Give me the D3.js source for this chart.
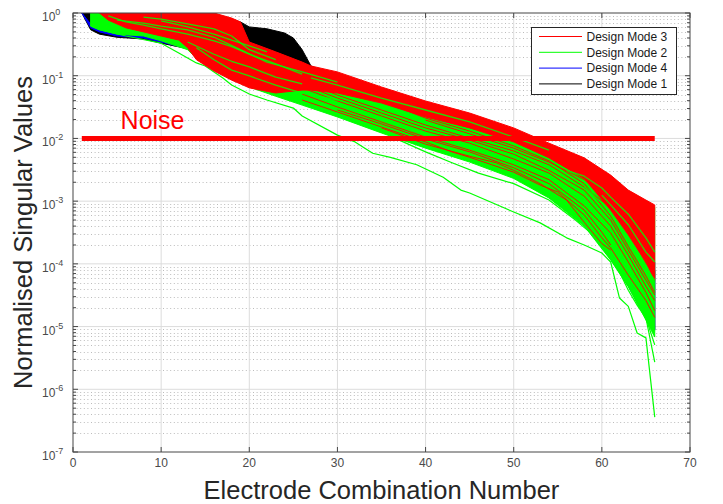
<!DOCTYPE html>
<html>
<head>
<meta charset="utf-8">
<script src="https://cdn.jsdelivr.net/npm/d3@7"></script>
<style>
  body { margin: 0; background: #fff; }
  svg { display: block; }
  text { font-family: "Liberation Sans", Arial, Helvetica, sans-serif; }
</style>
</head>
<body>
<svg id="chart" width="723" height="504"></svg>
<script>
// ---------------- data ----------------
// Envelopes (upper / lower) of each design mode's bundle of singular-value curves
const mode1X  = [1, 2, 3, 5, 8, 10, 13, 16, 19, 20, 22, 24, 25, 26, 27, 30, 35, 40, 45, 50, 54, 58, 61, 63, 65, 66];
const mode1Hi = [1, 1, 1, 1, 1, 1, 1, 0.93, 0.72, 0.60, 0.56, 0.48, 0.40, 0.26, 0.143, 0.092, 0.047, 0.0264, 0.0158, 0.0088, 0.0045, 0.0020, 0.00072, 0.00029, 0.000115, 8.0e-5];
const mode1Lo = [1, 0.54, 0.46, 0.41, 0.385, 0.33, 0.27, 0.128, 0.0765, 0.069, 0.055, 0.044, 0.0395, 0.0367, 0.034, 0.0236, 0.0131, 0.0076, 0.0045, 0.0025, 0.0012, 0.00043, 0.000133, 5.1e-5, 1.5e-5, 8.8e-6];

const mode4X  = [1, 2, 3, 5, 8, 10, 13, 16, 20, 26, 30, 35, 40, 45, 50, 54, 58, 61, 63, 65, 66];
const mode4Hi = [1, 0.67, 0.62, 0.58, 0.54, 0.50, 0.43, 0.26, 0.123, 0.071, 0.049, 0.0284, 0.017, 0.0105, 0.0063, 0.0034, 0.0015, 0.0006, 0.00029, 0.000138, 0.000107];
const mode4Lo = [1, 0.58, 0.50, 0.43, 0.40, 0.345, 0.27, 0.128, 0.069, 0.0354, 0.0228, 0.0127, 0.0073, 0.0044, 0.0024, 0.00116, 0.00042, 0.000119, 4.4e-5, 1.37e-5, 8.8e-6];

const mode2X  = [2, 3, 5, 8, 10, 13, 14, 16, 18, 20, 23, 26, 30, 35, 40, 45, 50, 54, 58, 61, 63, 65, 66];
const mode2Hi = [1, 1, 1, 1, 1, 1, 1, 1, 0.77, 0.32, 0.21, 0.148, 0.099, 0.057, 0.033, 0.0211, 0.0122, 0.0068, 0.0039, 0.0023, 0.00145, 0.001, 0.0008];
const mode2Lo = [0.62, 0.54, 0.46, 0.43, 0.36, 0.26, 0.19, 0.123, 0.089, 0.066, 0.047, 0.034, 0.022, 0.0122, 0.0070, 0.0042, 0.0023, 0.00112, 0.0004, 0.000115, 4.3e-5, 1.27e-5, 6.8e-6];

const mode3X  = [3, 4, 6, 8, 10, 12, 13, 14, 16, 18, 19, 20, 23, 26, 27, 30, 35, 40, 45, 50, 54, 58, 61, 63, 65, 66];
const mode3Hi = [1, 1, 1, 1, 1, 1, 1, 1, 1, 0.83, 0.72, 0.345, 0.24, 0.165, 0.143, 0.115, 0.066, 0.0395, 0.0254, 0.0147, 0.0084, 0.0049, 0.0026, 0.0015, 0.00104, 0.00087];
const mode3Lo = [1, 0.77, 0.58, 0.50, 0.43, 0.37, 0.28, 0.18, 0.119, 0.085, 0.074, 0.064, 0.053, 0.059, 0.059, 0.053, 0.0367, 0.022, 0.0147, 0.0088, 0.0049, 0.0023, 0.00072, 0.00029, 0.000107, 5.5e-5];

// Individual Design Mode 3 curves running through the Mode 2 bundle
const mode3Curves = [
  { x: [26, 30, 35, 40, 43, 45, 50, 53, 55, 58, 60, 61, 63, 65, 66],
    v: [0.041, 0.0264, 0.0152, 0.0088, 0.0061, 0.005, 0.0029, 0.0018, 0.0014, 0.0006, 0.00026, 0.00018, 6.6e-5, 2.6e-5, 1.4e-5] },
  { x: [20, 26, 30, 35, 40, 45, 50, 54, 58, 61, 63, 65, 66],
    v: [0.18, 0.064, 0.0395, 0.0228, 0.0131, 0.0084, 0.0047, 0.0028, 0.0012, 0.0004, 0.000138, 4.4e-5, 2.6e-5] },
  { x: [26, 30, 35, 40, 45, 50, 54, 58, 61, 63, 65, 66],
    v: [0.085, 0.049, 0.0284, 0.0164, 0.0101, 0.0063, 0.0038, 0.00168, 0.00078, 0.00032, 0.000103, 6.4e-5] },
  { x: [26, 30, 35, 40, 45, 50, 54, 58, 61, 63, 65, 66],
    v: [0.051, 0.0317, 0.0183, 0.0105, 0.0065, 0.0038, 0.0022, 0.00084, 0.00031, 0.000107, 3.5e-5, 1.8e-5] },
  { x: [30, 35, 40, 45, 50, 54, 58, 61, 63, 65, 66],
    v: [0.069, 0.0395, 0.0211, 0.0131, 0.0076, 0.0044, 0.0019, 0.00058, 0.00019, 6.4e-5, 3.5e-5] },
  { x: [35, 40, 45, 48, 50, 53, 56, 58, 60, 61],
    v: [0.0147, 0.0081, 0.0052, 0.0041, 0.0031, 0.0019, 0.00104, 0.00046, 0.00021, 0.000166] },
  { x: [27, 30, 35, 40, 45, 50, 54, 58, 61, 63, 65, 66],
    v: [0.064, 0.044, 0.0254, 0.0147, 0.0094, 0.0056, 0.0031, 0.0015, 0.0005, 0.000166, 5.5e-5, 3.2e-5] },
  { x: [30, 35, 40, 45, 50, 54, 58, 60, 61],
    v: [0.0284, 0.017, 0.0098, 0.0061, 0.0034, 0.0019, 0.00072, 0.00032, 0.0002] },
  { x: [40, 45, 50, 54, 58, 61, 63, 65, 66],
    v: [0.0196, 0.0118, 0.007, 0.0042, 0.0022, 0.00104, 0.00037, 0.000138, 8.6e-5] }
];

// Individual Design Mode 2 curves: ones threading the Mode 3 bundle and the low outliers
const mode2Curves = [
  { x: [4, 6, 8, 10, 13, 16, 18, 20, 23, 26],
    v: [0.90, 0.72, 0.64, 0.56, 0.46, 0.36, 0.29, 0.22, 0.154, 0.106] },
  { x: [10, 13, 16, 18, 20, 22],
    v: [0.75, 0.60, 0.46, 0.37, 0.30, 0.24] },
  { x: [13, 16, 18, 20, 23, 26],
    v: [0.345, 0.22, 0.17, 0.138, 0.095, 0.074] },
  { x: [56, 58, 60, 61, 63, 65, 66],
    v: [0.0031, 0.0025, 0.00162, 0.00116, 0.00062, 0.00026, 0.000154] },
  { x: [58, 60, 61, 63, 65, 66],
    v: [0.00174, 0.00093, 0.00062, 0.00024, 8.6e-5, 5.5e-5] },
  { x: [5, 8, 10, 13, 16, 19, 22, 26, 30],
    v: [0.77, 0.69, 0.62, 0.54, 0.41, 0.26, 0.165, 0.115, 0.079] },
  { x: [8, 10, 13, 16, 18, 20, 23],
    v: [0.86, 0.80, 0.67, 0.56, 0.43, 0.26, 0.18] },
  { x: [14, 16, 18, 20, 23, 26, 30],
    v: [0.28, 0.18, 0.123, 0.099, 0.071, 0.053, 0.041] },
  { x: [60, 61, 63, 65, 66],
    v: [0.00125, 0.00087, 0.00042, 0.000154, 0.000107] },
  { x: [27, 30, 35, 40, 45, 50, 54],
    v: [0.092, 0.071, 0.044, 0.0284, 0.0183, 0.0105, 0.0065] }
];
const mode2Outliers = [
  { x: [2, 3, 6, 10, 12, 14, 15, 17, 18, 20, 22, 25, 26, 30, 32, 34, 36, 39, 42, 44, 45, 50, 53, 56, 58, 60, 61, 62, 63, 64, 65, 66],
    v: [0.62, 0.54, 0.43, 0.33, 0.23, 0.16, 0.143, 0.092, 0.071, 0.051, 0.041, 0.0305, 0.0228, 0.0113, 0.0088, 0.0058, 0.005, 0.0038, 0.0024, 0.0015, 0.00135, 0.00067, 0.00045, 0.00026, 0.0002, 0.000149, 0.000107, 2.85e-5, 2.1e-5, 7.9e-6, 6.6e-6, 3.6e-7] },
  { x: [54, 57, 59, 61, 62, 63, 64, 65, 66],
    v: [0.00104, 0.0005, 0.00029, 0.000138, 7.4e-5, 3.8e-5, 2.2e-5, 1.37e-5, 2.7e-6] },
  { x: [56, 58, 60, 62, 63, 64, 65, 66],
    v: [0.00072, 0.00042, 0.00024, 0.000107, 5.5e-5, 2.6e-5, 1.37e-5, 5.1e-6] },
  { x: [36, 40, 43, 46, 50, 54],
    v: [0.0109, 0.0061, 0.0041, 0.0028, 0.0019, 0.00104] }
];

// Noise floor
const noiseX = [1, 66];
const noiseV = [0.01, 0.01];

// Axes
const xTicks = [0, 10, 20, 30, 40, 50, 60, 70];
const yExponents = [0, -1, -2, -3, -4, -5, -6, -7];

// Legend (entry order as listed)
const legendNames  = ["Design Mode 3", "Design Mode 2", "Design Mode 4", "Design Mode 1"];
const legendColors = ["#ff0000", "#00ff00", "#0000ff", "#000000"];

// ---------------- drawing ----------------
const svg = d3.select("#chart");
const L = 73, R = 690, T = 13, B = 452;
const x = d3.scaleLinear().domain([0, 70]).range([L, R]);
const y = d3.scaleLog().domain([1e-7, 1]).range([B, T]);
const axisColor = "#474747";

svg.append("defs").append("clipPath").attr("id", "plotClip")
  .append("rect").attr("x", L).attr("y", T).attr("width", R - L).attr("height", B - T);

// grid
const grid = svg.append("g");
const minorVals = [];
yExponents.forEach(e => { if (e < 0) for (let k = 2; k <= 9; k++) minorVals.push(k * Math.pow(10, e)); });
grid.selectAll("line.minor").data(minorVals).join("line")
  .attr("x1", L).attr("x2", R)
  .attr("y1", d => Math.round(y(d)) + 0.5).attr("y2", d => Math.round(y(d)) + 0.5)
  .attr("stroke", "#bcbcbc").attr("stroke-width", 1).attr("stroke-dasharray", "1,2.6");
grid.selectAll("line.my").data(yExponents.slice(1, -1)).join("line")
  .attr("x1", L).attr("x2", R)
  .attr("y1", d => y(Math.pow(10, d))).attr("y2", d => y(Math.pow(10, d)))
  .attr("stroke", "#dcdcdc").attr("stroke-width", 1);
grid.selectAll("line.mx").data(xTicks.slice(1, -1)).join("line")
  .attr("x1", d => x(d)).attr("x2", d => x(d))
  .attr("y1", T).attr("y2", B)
  .attr("stroke", "#dcdcdc").attr("stroke-width", 1);

// data
const plot = svg.append("g").attr("clip-path", "url(#plotClip)");
const area = d3.area().x(d => x(d.x)).y0(d => y(d.lo)).y1(d => y(d.hi));
const line = d3.line().x(d => x(d.x)).y(d => y(d.v));
const band = (xs, hi, lo) => xs.map((xv, i) => ({ x: xv, hi: hi[i], lo: lo[i] }));
const pts = c => c.x.map((xv, i) => ({ x: xv, v: c.v[i] }));

function drawBand(xs, hi, lo, color) {
  plot.append("path").datum(band(xs, hi, lo)).attr("d", area)
    .attr("fill", color).attr("stroke", color).attr("stroke-width", 1).attr("stroke-linejoin", "round");
}
function drawCurves(curves, color, width, opacity) {
  plot.selectAll(null).data(curves).join("path")
    .attr("d", c => line(pts(c)))
    .attr("fill", "none").attr("stroke", color).attr("stroke-width", width)
    .attr("stroke-opacity", opacity).attr("stroke-linejoin", "round");
}

drawBand(mode1X, mode1Hi, mode1Lo, "#000000");
drawBand(mode4X, mode4Hi, mode4Lo, "#0000ff");
drawBand(mode2X, mode2Hi, mode2Lo, "#00ff00");
drawCurves(mode2Outliers, "#00ff00", 1.2, 1);
drawBand(mode3X, mode3Hi, mode3Lo, "#ff0000");
drawCurves(mode3Curves, "#ff0000", 1, 0.9);
drawCurves(mode2Curves, "#00ff00", 1.3, 0.85);

// noise floor
plot.append("path").datum(noiseX.map((xv, i) => ({ x: xv, v: noiseV[i] })))
  .attr("d", line).attr("fill", "none").attr("stroke", "#ff0000").attr("stroke-width", 5);
svg.append("text").attr("x", x(5.4)).attr("y", y(0.014))
  .attr("fill", "#ff0000").attr("font-size", 25).text("Noise");

// box and ticks
const axes = svg.append("g").attr("stroke", axisColor).attr("stroke-width", 1);
axes.append("rect").attr("x", L).attr("y", T).attr("width", R - L).attr("height", B - T).attr("fill", "none");
xTicks.forEach(t => {
  axes.append("line").attr("x1", x(t)).attr("x2", x(t)).attr("y1", B).attr("y2", B - 5);
  axes.append("line").attr("x1", x(t)).attr("x2", x(t)).attr("y1", T).attr("y2", T + 5);
});
yExponents.forEach(e => {
  const yy = y(Math.pow(10, e));
  axes.append("line").attr("x1", L).attr("x2", L + 5).attr("y1", yy).attr("y2", yy);
  axes.append("line").attr("x1", R).attr("x2", R - 5).attr("y1", yy).attr("y2", yy);
});
minorVals.forEach(v => {
  const yy = y(v);
  axes.append("line").attr("x1", L).attr("x2", L + 3).attr("y1", yy).attr("y2", yy);
  axes.append("line").attr("x1", R).attr("x2", R - 3).attr("y1", yy).attr("y2", yy);
});

// tick labels
svg.selectAll("text.xt").data(xTicks).join("text")
  .attr("x", d => x(d)).attr("y", 467).attr("text-anchor", "middle")
  .attr("font-size", 12).attr("fill", "#4a4a4a").text(d => d);
const yl = svg.selectAll("text.yt").data(yExponents).join("text")
  .attr("x", 42).attr("y", d => y(Math.pow(10, d)) + 8)
  .attr("font-size", 12).attr("fill", "#4a4a4a");
yl.append("tspan").text("10");
yl.append("tspan").attr("dy", -6).attr("font-size", 9).text(d => d === 0 ? "0" : "-" + Math.abs(d));

// axis titles
svg.append("text").attr("x", (L + R) / 2).attr("y", 499).attr("text-anchor", "middle")
  .attr("font-size", 25.5).attr("fill", "#262626").text("Electrode Combination Number");
svg.append("text").attr("transform", `translate(32,${(T + B) / 2}) rotate(-90)`)
  .attr("text-anchor", "middle").attr("font-size", 25.5).attr("fill", "#262626")
  .text("Normalised Singular Values");

// legend
const lg = svg.append("g");
lg.append("rect").attr("x", 531.5).attr("y", 27.5).attr("width", 145).attr("height", 67)
  .attr("fill", "#fff").attr("stroke", "#262626").attr("stroke-width", 1);
legendNames.forEach((name, i) => {
  const cy = 36.5 + i * 15.8;
  lg.append("line").attr("x1", 539).attr("x2", 582).attr("y1", cy).attr("y2", cy)
    .attr("stroke", legendColors[i]).attr("stroke-width", 1);
  lg.append("text").attr("x", 586.5).attr("y", cy + 4.3).attr("font-size", 12)
    .attr("fill", "#1a1a1a").text(name);
});
</script>
</body>
</html>
